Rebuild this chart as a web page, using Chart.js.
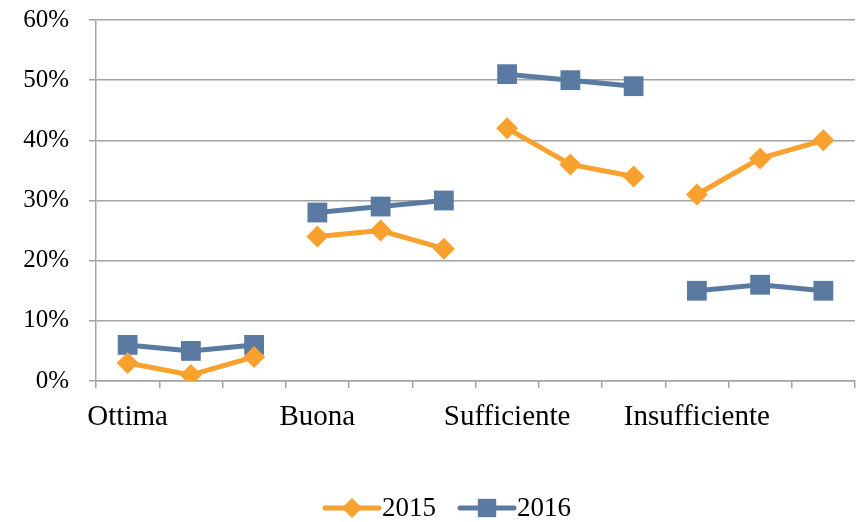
<!DOCTYPE html>
<html>
<head>
<meta charset="utf-8">
<script src="https://cdn.jsdelivr.net/npm/chart.js@4"></script>
<style>
  html, body { margin: 0; padding: 0; background: #fff; }
  #wrap { width: 858px; height: 522px; }
</style>
</head>
<body>
<div id="wrap"><canvas id="chart" width="858" height="522"></canvas></div>
<script>
// Groups shown on the x axis, each one has three points
const groups = ['Ottima', 'Buona', 'Sufficiente', 'Insufficiente'];
const pointsPerGroup = 3;

// Percent values
const values2015 = [3, 1, 4, 24, 25, 22, 42, 36, 34, 31, 37, 40];
const values2016 = [6, 5, 6, 28, 29, 30, 51, 50, 49, 15, 16, 15];

const yTicks = [0, 10, 20, 30, 40, 50, 60];

const orange = '#F8A12E';
const blue = '#5B7AA2';
const gridColor = '#a3a3a3';
const fontFamily = '"Liberation Serif", "Times New Roman", serif';

// One label per slot, the group name sits on the first slot of each group
const labels = [];
groups.forEach(g => {
    for (let i = 0; i < pointsPerGroup; i++) labels.push(i === 0 ? g : '');
});

// Break the line between groups
function segColor(color) {
    return ctx => (ctx.p0DataIndex % pointsPerGroup === pointsPerGroup - 1) ? 'rgba(0,0,0,0)' : color;
}

// Legend drawn as line + marker, like the original
const lineLegend = {
    id: 'lineLegend',
    afterDraw(chart) {
        const c = chart.ctx;
        const items = [
            { text: '2015', color: orange, style: 'rectRot', r: 10 },
            { text: '2016', color: blue, style: 'rect', r: 13 }
        ];
        const y = 508;
        let x = 325;
        c.save();
        c.font = '27px ' + fontFamily;
        c.textBaseline = 'middle';
        items.forEach(it => {
            c.strokeStyle = it.color;
            c.lineWidth = 5;
            c.lineCap = 'round';
            c.beginPath();
            c.moveTo(x, y);
            c.lineTo(x + 54, y);
            c.stroke();
            c.fillStyle = it.color;
            Chart.helpers.drawPoint(c, {
                pointStyle: it.style, radius: it.r, borderWidth: 0, rotation: 0
            }, x + 27, y);
            c.fillStyle = '#000';
            c.textAlign = 'left';
            c.fillText(it.text, x + 57, y + 1);
            x += 57 + c.measureText(it.text).width + 24;
        });
        c.restore();
    }
};

new Chart(document.getElementById('chart'), {
    type: 'line',
    data: {
        labels: labels,
        datasets: [{
            label: '2015',
            data: values2015,
            borderColor: orange,
            backgroundColor: orange,
            borderWidth: 5,
            pointStyle: 'rectRot',
            pointRadius: 11,
            pointBorderWidth: 0,
            pointBackgroundColor: orange,
            segment: { borderColor: segColor(orange) },
            tension: 0
        }, {
            label: '2016',
            data: values2016,
            borderColor: blue,
            backgroundColor: blue,
            borderWidth: 5,
            pointStyle: 'rect',
            pointRadius: 14,
            pointBorderWidth: 0,
            pointBackgroundColor: blue,
            segment: { borderColor: segColor(blue) },
            tension: 0
        }]
    },
    options: {
        responsive: false,
        animation: false,
        layout: {
            autoPadding: false,
            padding: { top: 20, right: 3, bottom: 81, left: 0 }
        },
        plugins: {
            legend: { display: false },
            tooltip: { enabled: false }
        },
        scales: {
            x: {
                offset: true,
                grid: {
                    display: true,
                    offset: true,
                    drawOnChartArea: false,
                    drawTicks: true,
                    tickLength: 7,
                    color: gridColor,
                    lineWidth: 1.5
                },
                border: { color: gridColor, width: 1.5 },
                ticks: {
                    autoSkip: false,
                    maxRotation: 0,
                    color: '#000',
                    padding: 12,
                    font: { family: fontFamily, size: 29 }
                },
                afterFit(scale) { scale.height = 60; }
            },
            y: {
                min: yTicks[0],
                max: yTicks[yTicks.length - 1],
                afterBuildTicks(scale) { scale.ticks = yTicks.map(v => ({ value: v })); },
                grid: {
                    color: gridColor,
                    lineWidth: 1.5,
                    tickLength: 7
                },
                border: { color: gridColor, width: 1.5 },
                ticks: {
                    color: '#000',
                    padding: 20,
                    font: { family: fontFamily, size: 25 },
                    callback: v => v + '%'
                },
                afterFit(scale) {
                    scale.width = 96;
                    scale.paddingTop = 0;
                    scale.paddingBottom = 0;
                }
            }
        }
    },
    plugins: [lineLegend]
});
</script>
</body>
</html>
